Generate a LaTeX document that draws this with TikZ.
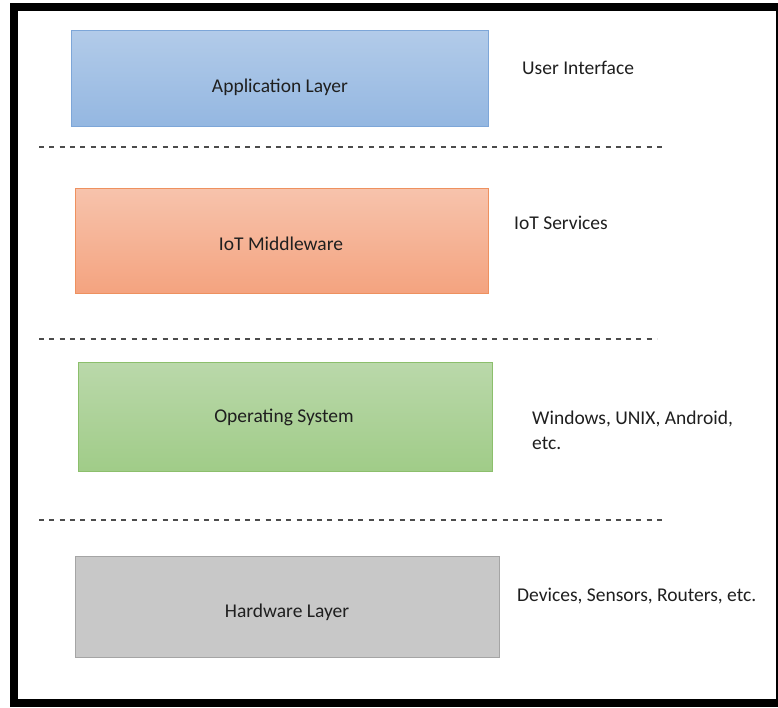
\documentclass[tikz,border=0pt]{standalone}
\usepackage{fontspec}
\setmainfont{Carlito}
\begin{document}
\begin{tikzpicture}[x=1pt,y=-1pt,
  layerbox/.style={draw, line width=1pt, anchor=north west, inner sep=0pt},
  layertext/.style={font=\fontsize{19.5}{23}\selectfont, text=black!88, inner sep=0pt},
  sidetext/.style={font=\fontsize{19.5}{25}\selectfont, text=black!88, inner sep=0pt, anchor=west, align=left},
  divider/.style={draw=black!70, line width=1.3pt, dash pattern=on 5pt off 5.3pt}]
  \useasboundingbox (0,0) rectangle (778,707);
  \fill[white] (0,0) rectangle (778,707);
  % outer frame
  \draw[line width=8pt] (14,7) rectangle (780,703);

  % layer boxes
  \node[layerbox, draw={rgb,255:red,125;green,166;blue,216}, top color={rgb,255:red,178;green,203;blue,233}, bottom color={rgb,255:red,148;green,183;blue,225}, minimum width=417pt, minimum height=96pt] (app) at (71,30) {};
  \node[layerbox, draw={rgb,255:red,238;green,145;blue,95}, top color={rgb,255:red,247;green,195;blue,172}, bottom color={rgb,255:red,244;green,163;blue,127}, minimum width=413pt, minimum height=105pt] (mid) at (75,188) {};
  \node[layerbox, draw={rgb,255:red,140;green,191;blue,108}, top color={rgb,255:red,186;green,216;blue,170}, bottom color={rgb,255:red,160;green,204;blue,136}, minimum width=414pt, minimum height=109pt] (os) at (78,362) {};
  \node[layerbox, draw={rgb,255:red,165;green,165;blue,165}, fill={rgb,255:red,200;green,200;blue,200}, minimum width=424pt, minimum height=101pt] (hw) at (75,556) {};

  % layer titles
  \node[layertext] (appt) at (280,87) {Application Layer};
  \node[layertext] (midt) at (281,244) {IoT Middleware};
  \node[layertext] (ost) at (284,417) {Operating System};
  \node[layertext] (hwt) at (287,612) {Hardware Layer};

  % side descriptions
  \node[sidetext] (appd) at (522,68) {User Interface};
  \node[sidetext] (midd) at (514,223) {IoT Services};
  \node[sidetext] (osd) at (532,430) {Windows, UNIX, Android,\\etc.};
  \node[sidetext] (hwd) at (517,596) {Devices, Sensors, Routers, etc.};

  % dividers between layers
  \coordinate (d1a) at (39,147); \coordinate (d1b) at (667,147);
  \coordinate (d2a) at (39,339); \coordinate (d2b) at (657,339);
  \coordinate (d3a) at (39,520); \coordinate (d3b) at (667,520);
  \draw[divider] (d1a) -- (d1b);
  \draw[divider] (d2a) -- (d2b);
  \draw[divider] (d3a) -- (d3b);
\end{tikzpicture}
\end{document}
